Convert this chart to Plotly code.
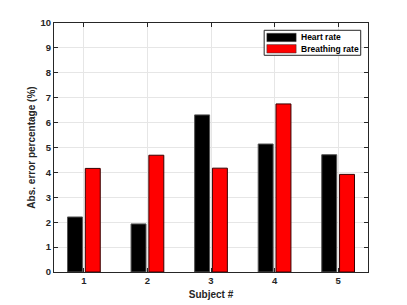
import plotly.graph_objects as go

subjects = [1, 2, 3, 4, 5]
heart_rate = [2.21, 1.93, 6.31, 5.14, 4.71]
breathing_rate = [4.16, 4.69, 4.17, 6.75, 3.92]
series_names = ["Heart rate", "Breathing rate"]
series_colors = ["#000000", "#ff0000"]
y_ticks = list(range(0, 11))

fig = go.Figure()
fig.add_trace(go.Bar(x=subjects, y=heart_rate, name=series_names[0], showlegend=False,
                     marker=dict(color=series_colors[0], line=dict(color="#555555", width=1))))
fig.add_trace(go.Bar(x=subjects, y=breathing_rate, name=series_names[1], showlegend=False,
                     marker=dict(color=series_colors[1], line=dict(color="#3a0000", width=1))))

font_family = "Liberation Sans, Arial, sans-serif"
axis_common = dict(showline=True, linecolor="#262626", linewidth=1, mirror="ticks",
                   ticks="inside", ticklen=4, tickcolor="#262626", automargin=False,
                   showgrid=True, gridcolor="#e6e6e6", gridwidth=1, zeroline=False,
                   tickfont=dict(family=font_family, size=9.5, color="#262626", weight="bold"))

# Matlab-style legend (box, wide swatches, labels) in paper coordinates
shapes = [dict(type="rect", xref="paper", yref="paper", x0=0.6693, x1=0.9768, y0=0.8703, y1=0.9707,
               fillcolor="white", line=dict(color="#262626", width=1), layer="above")]
swatch_y = [(0.9253, 0.9586), (0.8795, 0.9133)]
text_y = [0.9426, 0.8964]
annotations = []
for name, color, (y0, y1), ty in zip(series_names, series_colors, swatch_y, text_y):
    shapes.append(dict(type="rect", xref="paper", yref="paper", x0=0.6779, x1=0.7711, y0=y0, y1=y1,
                       fillcolor=color, line=dict(color="#333333", width=0.5), layer="above"))
    annotations.append(dict(xref="paper", yref="paper", x=0.7797, y=ty, xanchor="left", yanchor="middle",
                            text=name, showarrow=False,
                            font=dict(family=font_family, size=8.5, weight="bold", color="#000000")))

fig.update_layout(
    width=407, height=305,
    margin=dict(l=45.5, r=47, t=14.7, b=41.3, autoexpand=False),
    plot_bgcolor="white", paper_bgcolor="white",
    barmode="group", bargap=0.44, bargroupgap=0.16,
    font=dict(family=font_family, color="#262626"),
    xaxis=dict(range=[0.53, 5.47], tickvals=subjects,
               title=dict(text="Subject #", font=dict(size=10, weight="bold", family=font_family), standoff=5),
               **axis_common),
    yaxis=dict(range=[0, 10], tickvals=y_ticks,
               title=dict(text="Abs. error percentage (%)", font=dict(size=10, weight="bold", family=font_family), standoff=3),
               **axis_common),
    shapes=shapes,
    annotations=annotations,
    showlegend=False,
)

fig.write_html("out.html")
